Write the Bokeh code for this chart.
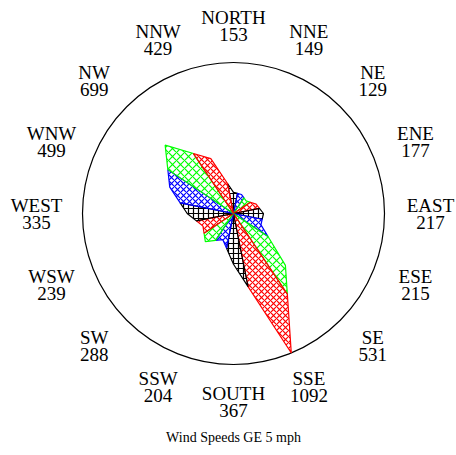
import numpy as np
from bokeh.plotting import figure
from bokeh.models import Range1d
from bokeh.core.properties import value
from bokeh.embed import file_html
from bokeh.resources import INLINE

# Wind rose: counts by direction (clockwise from north)
directions = ["NORTH", "NNE", "NE", "ENE", "EAST", "ESE", "SE", "SSE",
              "SOUTH", "SSW", "SW", "WSW", "WEST", "WNW", "NW", "NNW"]
counts = [153, 149, 129, 177, 217, 215, 531, 1092,
          367, 204, 288, 239, 335, 499, 699, 429]
title_text = "Wind Speeds GE 5 mph"

palette = ["black", "blue", "#00FF00", "red"]
hatches = ["cross", "diagonal_cross", "diagonal_cross", "diagonal_cross"]
hatch_sizes = [5, 6, 8, 6]

n = len(counts)
rmax = max(counts)
step = 360.0 / n
bearings = np.radians(np.arange(n) * step)
vals = np.array(counts, dtype=float)
px_x = vals * np.sin(bearings)
px_y = vals * np.cos(bearings)


def cross(a, b):
    return a[0] * b[1] - a[1] * b[0]


def boundary_point(i, j, phi):
    # where the ray at bearing phi meets the outline segment P_i -> P_j
    A = np.array([px_x[i], px_y[i]])
    B = np.array([px_x[j], px_y[j]])
    u = np.array([np.sin(phi), np.cos(phi)])
    d = B - A
    t = cross(A, u) / cross(u, d)
    return A + t * d


xs, ys, cols, hats, hscale = [], [], [], [], []
for i in range(n):
    prev_i = (i - 1) % n
    next_i = (i + 1) % n
    q0 = boundary_point(prev_i, i, bearings[i] - np.radians(step / 2))
    q1 = boundary_point(i, next_i, bearings[i] + np.radians(step / 2))
    xs.append([0.0, q0[0], px_x[i], q1[0]])
    ys.append([0.0, q0[1], px_y[i], q1[1]])
    cols.append(palette[i % 4])
    hats.append(hatches[i % 4])
    hscale.append(hatch_sizes[i % 4])

# pixel scale: the outer circle (largest count) is ~151 px in radius
W, H = 456, 455
cx, cy = 233.0, 213.0
s = 151.0 / rmax

p = figure(width=W, height=H, output_backend="svg", toolbar_location=None,
           x_range=Range1d(-cx / s, (W - cx) / s),
           y_range=Range1d(-(H - cy) / s, cy / s),
           min_border=0, outline_line_color=None)
p.axis.visible = False
p.grid.visible = False
p.background_fill_color = "white"
p.border_fill_color = "white"

p.circle(x=[0], y=[0], radius=rmax, fill_color=None, line_color="black",
         line_width=1.2)

p.patches(xs=xs, ys=ys, fill_color=None, line_color=cols, line_width=1.2,
          hatch_pattern=hats, hatch_color=cols, hatch_scale=hscale,
          hatch_weight=1.2)

# direction labels around the circle
ax_r, ay_r = 197.0 / s, 188.0 / s
lx = ax_r * np.sin(bearings)
ly = ay_r * np.cos(bearings)
font = value("Liberation Serif")
p.text(x=lx, y=ly, text=directions, text_font=font, text_font_size="19px",
       text_align="center", text_baseline="middle", y_offset=-8.5,
       text_color="black")
p.text(x=lx, y=ly, text=[str(c) for c in counts], text_font=font,
       text_font_size="19px", text_align="center", text_baseline="middle",
       y_offset=8.5, text_color="black")

p.text(x=[0], y=[-(437 - cy) / s], text=[title_text], text_font=font,
       text_font_size="14px", text_align="center", text_baseline="middle",
       text_color="black")

open("out.html", "w").write(file_html(p, INLINE))
